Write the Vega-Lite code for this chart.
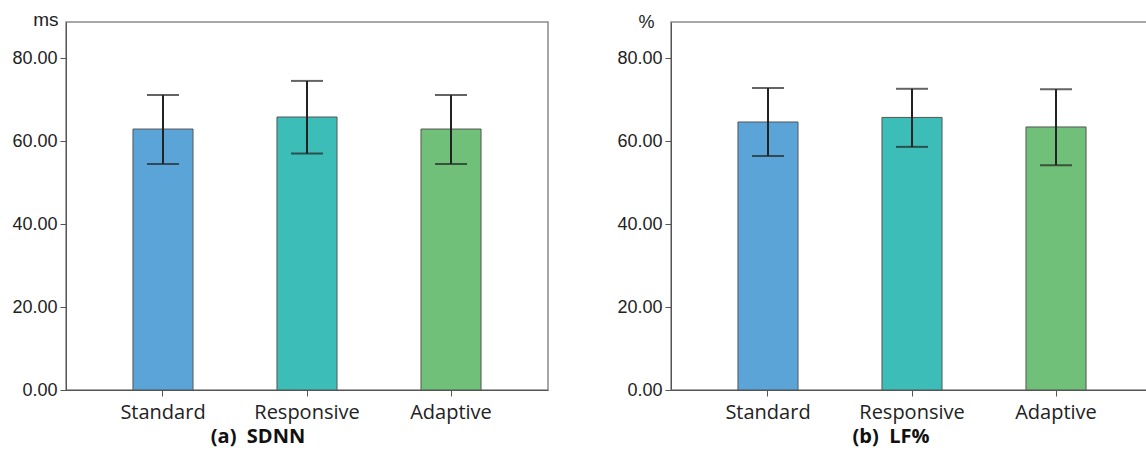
{
  "$schema": "https://vega.github.io/schema/vega-lite/v6.json",
  "padding": {"left": 11, "top": 9, "right": 0, "bottom": 5},
  "background": "white",
  "config": {
    "view": {"stroke": "#8a8a8a", "strokeWidth": 1.5},
    "axis": {"domainColor": "#555", "tickColor": "#555", "labelColor": "#222", "titleColor": "#222", "grid": false}
  },
  "spacing": 67,
  "hconcat": [
    {
      "width": 482,
      "height": 368,
      "data": {"values": [
        {"group": "Standard", "mean": 62.9, "lo": 54.5, "hi": 71.1},
        {"group": "Responsive", "mean": 65.8, "lo": 57.0, "hi": 74.5},
        {"group": "Adaptive", "mean": 62.9, "lo": 54.5, "hi": 71.1}
      ]},
      "title": {"text": "(a)\u00a0\u00a0SDNN", "orient": "bottom", "frame": "group", "anchor": "middle", "dx": -49, "font": "Open Sans", "fontSize": 20, "fontWeight": "bold", "color": "#111", "offset": 5},
      "encoding": {
        "x": {"field": "group", "type": "nominal", "sort": ["Standard", "Responsive", "Adaptive"],
          "scale": {"paddingInner": 0.583, "paddingOuter": 0.465},
          "axis": {"title": null, "labelAngle": 0, "labelFont": "Open Sans", "labelFontSize": 20, "tickSize": 6, "labelPadding": 6}}
      },
      "layer": [
        {"mark": {"type": "bar", "stroke": "#555", "strokeWidth": 1},
          "encoding": {
            "y": {"field": "mean", "type": "quantitative", "scale": {"domain": [0, 88.7], "nice": false},
              "axis": {"values": [0, 20, 40, 60, 80], "format": ".2f", "labelFont": "Liberation Sans", "labelFontSize": 18, "tickSize": 6, "labelPadding": 3,
                "title": "ms", "titleAngle": 0, "titleAlign": "right", "titleBaseline": "alphabetic", "titleX": -8, "titleY": 3, "titleFont": "Liberation Sans", "titleFontSize": 19, "titleFontWeight": "normal"}},
            "color": {"field": "group", "type": "nominal", "legend": null,
              "scale": {"domain": ["Standard", "Responsive", "Adaptive"], "range": ["#5ba4d8", "#3dbdb8", "#71c079"]}}
          }},
        {"mark": {"type": "rule", "strokeWidth": 2, "color": "#222"},
          "encoding": {"y": {"field": "lo", "type": "quantitative"}, "y2": {"field": "hi"}}},
        {"mark": {"type": "tick", "size": 32, "thickness": 2, "color": "#222"},
          "encoding": {"y": {"field": "lo", "type": "quantitative"}}},
        {"mark": {"type": "tick", "size": 32, "thickness": 2, "color": "#222"},
          "encoding": {"y": {"field": "hi", "type": "quantitative"}}}
      ]
    },
    {
      "width": 482,
      "height": 368,
      "data": {"values": [
        {"group": "Standard", "mean": 64.6, "lo": 56.4, "hi": 72.8},
        {"group": "Responsive", "mean": 65.7, "lo": 58.6, "hi": 72.6},
        {"group": "Adaptive", "mean": 63.4, "lo": 54.2, "hi": 72.5}
      ]},
      "title": {"text": "(b)\u00a0\u00a0LF%", "orient": "bottom", "frame": "group", "anchor": "middle", "dx": -21, "font": "Open Sans", "fontSize": 20, "fontWeight": "bold", "color": "#111", "offset": 5},
      "encoding": {
        "x": {"field": "group", "type": "nominal", "sort": ["Standard", "Responsive", "Adaptive"],
          "scale": {"paddingInner": 0.583, "paddingOuter": 0.465},
          "axis": {"title": null, "labelAngle": 0, "labelFont": "Open Sans", "labelFontSize": 20, "tickSize": 6, "labelPadding": 6}}
      },
      "layer": [
        {"mark": {"type": "bar", "stroke": "#555", "strokeWidth": 1},
          "encoding": {
            "y": {"field": "mean", "type": "quantitative", "scale": {"domain": [0, 88.7], "nice": false},
              "axis": {"values": [0, 20, 40, 60, 80], "format": ".2f", "labelFont": "Liberation Sans", "labelFontSize": 18, "tickSize": 6, "labelPadding": 3,
                "title": "%", "titleAngle": 0, "titleAlign": "right", "titleBaseline": "alphabetic", "titleX": -17, "titleY": 5, "titleFont": "Liberation Sans", "titleFontSize": 18, "titleFontWeight": "normal"}},
            "color": {"field": "group", "type": "nominal", "legend": null,
              "scale": {"domain": ["Standard", "Responsive", "Adaptive"], "range": ["#5ba4d8", "#3dbdb8", "#71c079"]}}
          }},
        {"mark": {"type": "rule", "strokeWidth": 2, "color": "#222"},
          "encoding": {"y": {"field": "lo", "type": "quantitative"}, "y2": {"field": "hi"}}},
        {"mark": {"type": "tick", "size": 32, "thickness": 2, "color": "#222"},
          "encoding": {"y": {"field": "lo", "type": "quantitative"}}},
        {"mark": {"type": "tick", "size": 32, "thickness": 2, "color": "#222"},
          "encoding": {"y": {"field": "hi", "type": "quantitative"}}}
      ]
    }
  ]
}
